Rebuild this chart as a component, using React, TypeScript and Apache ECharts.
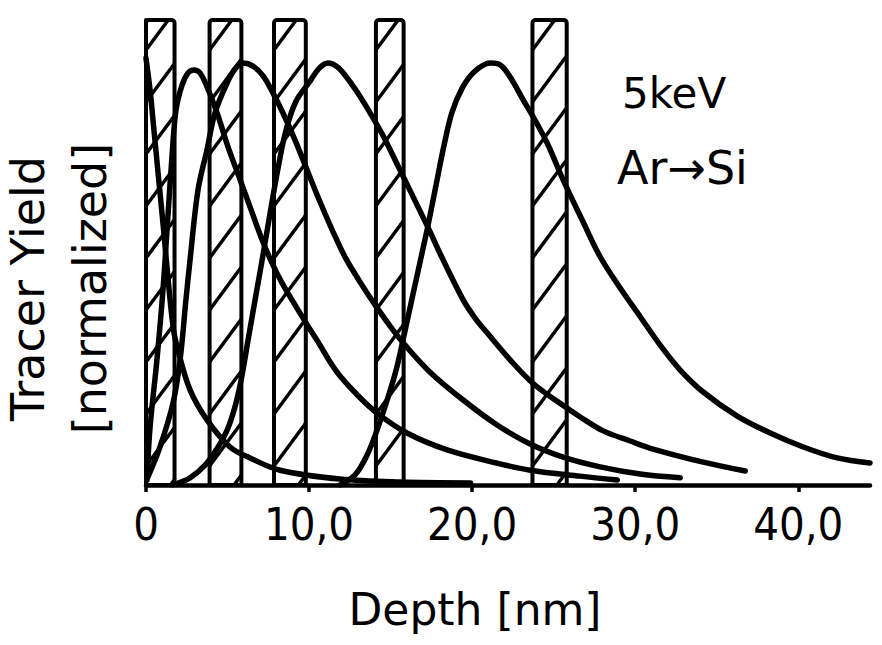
import React, { useEffect, useRef } from "react";
import * as echarts from "echarts";

// ---- data ----
const tickLabels = ["0", "10,0", "20,0", "30,0", "40,0"];
const xMin = 0;
const xMax = 44.4;
const yMax = 1.1;

// tracer layers (depth ranges, nm)
const layerStart = [0, 3.9, 7.85, 14.1, 23.7];
const layerEnd = [1.75, 5.85, 9.8, 15.8, 25.8];

// profile of tracer layer 1 (surface)
const c1Depth = [0, 0.25, 0.43, 0.74, 1.04, 1.23, 1.66, 1.96, 2.7, 3.74, 5.15, 6.38, 8.22, 11.9, 15.6, 19.9];
const c1Yield = [1.01, 0.934, 0.863, 0.738, 0.62, 0.539, 0.374, 0.319, 0.225, 0.154, 0.09, 0.064, 0.035, 0.014, 0.007, 0.005];

// profile of tracer layer 2
const c2Depth = [0.06, 0.25, 0.67, 1.04, 1.35, 1.6, 1.84, 2.21, 2.58, 2.94, 3.31, 3.74, 4.36, 5.03, 5.77, 6.38, 7.12, 7.73, 8.34, 9.14, 9.88, 10.67, 11.29, 11.9, 13.01, 14.17, 16.0, 18.47, 21.5, 23.56, 26.6, 28.9];
const c2Yield = [0.012, 0.137, 0.296, 0.461, 0.639, 0.781, 0.887, 0.946, 0.975, 0.982, 0.975, 0.942, 0.88, 0.8, 0.722, 0.658, 0.58, 0.525, 0.478, 0.426, 0.379, 0.331, 0.291, 0.258, 0.211, 0.17, 0.123, 0.083, 0.052, 0.035, 0.021, 0.012];

// profile of tracer layer 3
const c3Depth = [0.12, 0.86, 1.66, 2.09, 2.45, 2.7, 3.19, 3.74, 4.23, 4.97, 5.46, 5.95, 6.56, 7.18, 7.79, 8.4, 9.14, 9.88, 10.67, 11.47, 12.21, 13.13, 14.05, 14.97, 15.89, 17.42, 19.45, 21.53, 23.56, 25.58, 27.85, 30.31, 32.76];
const c3Yield = [0.019, 0.09, 0.194, 0.296, 0.438, 0.532, 0.698, 0.793, 0.88, 0.951, 0.984, 0.998, 0.991, 0.968, 0.927, 0.88, 0.816, 0.745, 0.67, 0.599, 0.539, 0.48, 0.426, 0.376, 0.331, 0.267, 0.201, 0.142, 0.097, 0.066, 0.043, 0.026, 0.017];

// profile of tracer layer 4
const c4Depth = [1.66, 2.7, 3.62, 4.42, 5.03, 5.52, 5.89, 6.26, 6.69, 7.12, 7.61, 8.1, 8.59, 9.2, 10.06, 10.6, 11.17, 11.7, 12.2, 12.94, 13.93, 14.54, 15.58, 16.63, 17.42, 18.04, 19.45, 20.18, 20.92, 22.33, 23.74, 25.21, 26.63, 28.04, 29.69, 31.1, 34.17, 36.75];
const c4Yield = [0.0, 0.017, 0.047, 0.09, 0.135, 0.194, 0.26, 0.343, 0.438, 0.532, 0.643, 0.75, 0.84, 0.908, 0.955, 0.985, 0.998, 0.99, 0.97, 0.93, 0.868, 0.826, 0.745, 0.662, 0.599, 0.547, 0.438, 0.395, 0.36, 0.296, 0.24, 0.198, 0.161, 0.128, 0.104, 0.085, 0.054, 0.033];

// profile of tracer layer 5
const c5Depth = [11.9, 12.82, 13.56, 14.17, 14.79, 15.34, 15.83, 16.32, 16.81, 17.3, 17.79, 18.28, 18.77, 19.39, 20.12, 21.1, 21.72, 22.33, 23.13, 23.74, 24.6, 25.58, 26.81, 27.85, 29.08, 30.31, 31.53, 32.76, 34.17, 36.26, 38.28, 40.31, 42.39, 44.4];
const c5Yield = [0.0, 0.024, 0.071, 0.13, 0.201, 0.272, 0.355, 0.442, 0.528, 0.615, 0.71, 0.804, 0.882, 0.939, 0.977, 0.998, 0.994, 0.965, 0.911, 0.871, 0.809, 0.722, 0.622, 0.54, 0.466, 0.398, 0.331, 0.272, 0.22, 0.163, 0.123, 0.09, 0.064, 0.052];

const annotationEnergy = "5keV";
const annotationSystem = "Ar→Si";

const curves = [
  { d: c1Depth, y: c1Yield },
  { d: c2Depth, y: c2Yield },
  { d: c3Depth, y: c3Yield },
  { d: c4Depth, y: c4Yield },
  { d: c5Depth, y: c5Yield },
];

export default function App() {
  const ref = useRef<HTMLDivElement>(null);

  useEffect(() => {
    if (!ref.current) return;
    const chart = echarts.init(ref.current, null, { renderer: "svg" });

    const lineSeries = curves.map((c, idx) => ({
      type: "line",
      name: "layer " + (idx + 1),
      data: c.d.map((v, i) => [v, c.y[i]]),
      showSymbol: false,
      smooth: 0.35,
      lineStyle: { color: "#000", width: 5.5, cap: "round", join: "round" },
      z: 3,
    }));

    const layerSeries = {
      type: "custom",
      name: "tracer layers",
      data: layerStart.map((s, i) => [s, layerEnd[i]]),
      clip: false,
      z: 2,
      renderItem: (params: any, api: any) => {
        const tl = api.coord([api.value(0), yMax]);
        const br = api.coord([api.value(1), 0]);
        const xl = tl[0];
        const yt = tl[1];
        const xr = br[0];
        const yb = br[1];
        const w = xr - xl;
        const k = 1.35;
        const s = 52;
        const children: any[] = [];
        for (let c = yt + 30; c <= yb + k * w; c += s) {
          const xa = Math.max(xl, xl + (c - yb) / k);
          const xb = Math.min(xr, xl + (c - yt) / k);
          if (xb > xa + 0.5) {
            children.push({
              type: "line",
              shape: { x1: xa, y1: c - k * (xa - xl), x2: xb, y2: c - k * (xb - xl) },
              style: { stroke: "#000", lineWidth: 3.5 },
            });
          }
        }
        children.push({
          type: "rect",
          shape: { x: xl, y: yt, width: w, height: yb - yt, r: [3, 3, 0, 0] },
          style: { fill: "none", stroke: "#000", lineWidth: 4 },
        });
        return { type: "group", children };
      },
    };

    chart.setOption({
      animation: false,
      backgroundColor: "#fff",
      grid: {
        left: 146,
        right: 12,
        top: 20,
        bottom: 160,
        containLabel: false,
        outerBoundsMode: "none",
      },
      xAxis: {
        type: "value",
        min: xMin,
        max: xMax,
        interval: 10,
        name: "Depth [nm]",
        nameLocation: "middle",
        nameGap: 102,
        nameTextStyle: {
          fontFamily: "'DejaVu Sans', sans-serif",
          fontSize: 44,
          color: "#000",
          padding: [0, 66, 0, 0],
        },
        axisLine: { show: true, onZero: false, lineStyle: { color: "#000", width: 4.5 } },
        axisTick: { show: true, length: 7, lineStyle: { color: "#000", width: 3.5 } },
        axisLabel: {
          show: true,
          margin: 17,
          showMaxLabel: false,
          fontFamily: "'DejaVu Sans Condensed', 'DejaVu Sans', sans-serif",
          fontSize: 45,
          color: "#000",
          formatter: (v: number) => {
            const i = Math.round(v / 10);
            return Math.abs(v - i * 10) < 1e-6 && tickLabels[i] !== undefined ? tickLabels[i] : "";
          },
        },
        splitLine: { show: false },
      },
      yAxis: {
        type: "value",
        min: 0,
        max: yMax,
        name: "Tracer Yield\n[normalized]",
        nameLocation: "middle",
        nameGap: 25,
        nameTextStyle: {
          fontFamily: "'DejaVu Sans', sans-serif",
          fontSize: 46,
          lineHeight: 62,
          color: "#000",
          padding: [0, 72, 0, 0],
        },
        axisLine: { show: true, lineStyle: { color: "#000", width: 4 } },
        axisTick: { show: false },
        axisLabel: { show: false },
        splitLine: { show: false },
      },
      graphic: [
        {
          type: "text",
          left: 622,
          top: 72,
          style: {
            text: annotationEnergy,
            fontFamily: "'DejaVu Sans', sans-serif",
            fontSize: 42,
            fill: "#000",
          },
        },
        {
          type: "text",
          left: 617,
          top: 145,
          style: {
            text: annotationSystem,
            fontFamily: "'DejaVu Sans', sans-serif",
            fontSize: 46,
            fill: "#000",
          },
        },
      ],
      series: [layerSeries, ...lineSeries],
    });

    return () => chart.dispose();
  }, []);

  return (
    <div
      ref={ref}
      style={{ position: "absolute", left: 0, top: 0, width: 882, height: 645, background: "#fff" }}
    />
  );
}
